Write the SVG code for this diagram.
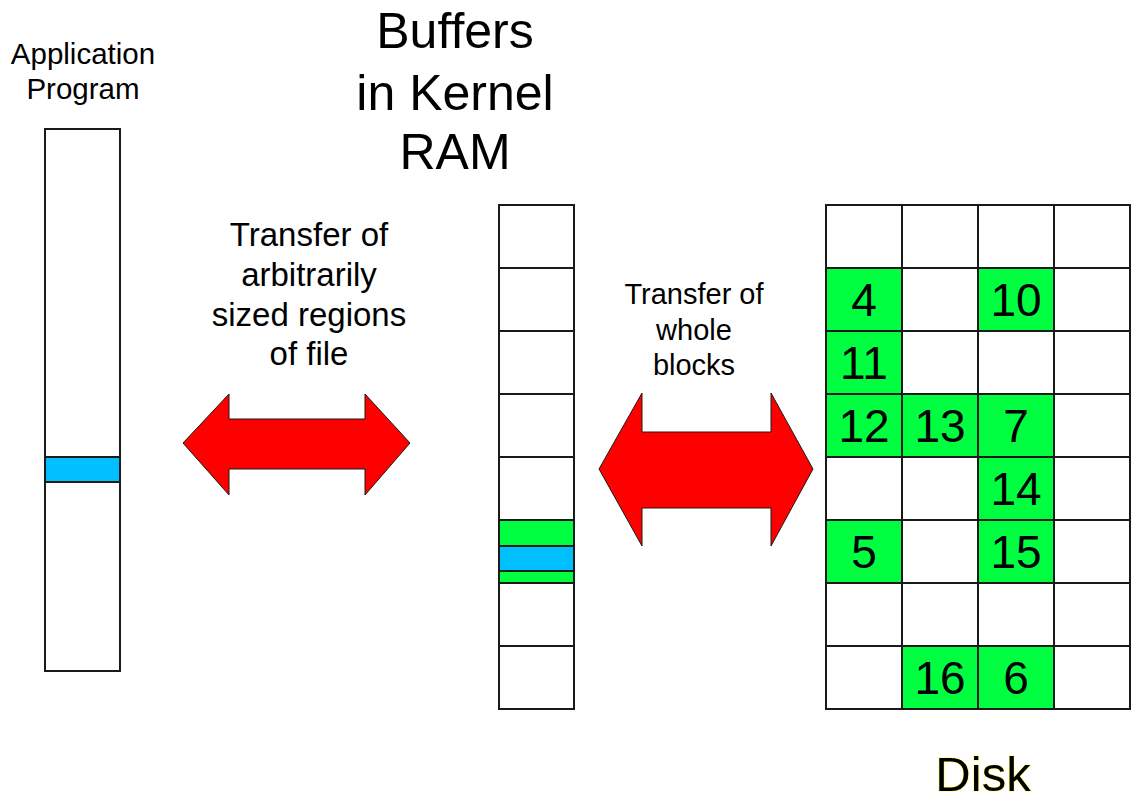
<svg xmlns="http://www.w3.org/2000/svg" width="1141" height="802" viewBox="0 0 1141 802">
<style>
.t{font-family:"Liberation Sans",Arial,sans-serif;fill:#000;text-anchor:middle}
.box{fill:#fff;stroke:#1a1a1a;stroke-width:2}
.g{fill:#00ff40;stroke:#1a1a1a;stroke-width:2}
.b{fill:#00bfff;stroke:#1a1a1a;stroke-width:2}
.arrow{fill:#ff0000;stroke:#1a1a1a;stroke-width:1}
.num{font-family:"Liberation Sans",Arial,sans-serif;font-size:46px;text-anchor:middle;fill:#000}
</style>
<rect width="1141" height="802" fill="#fff"/>
<g id="app">
<text class="t" font-size="29.5" x="83" y="64">Application</text>
<text class="t" font-size="29.5" x="83" y="99">Program</text>
<rect class="box" x="45" y="129" width="75" height="542"/>
<rect class="b" x="45" y="457" width="75" height="25"/>
</g>
<g id="buffers">
<text class="t" font-size="50" x="455" y="48">Buffers</text>
<text class="t" font-size="50" x="455" y="110">in Kernel</text>
<text class="t" font-size="50" x="455" y="169">RAM</text>
<rect class="box" x="499" y="205" width="75" height="63"/>
<rect class="box" x="499" y="268" width="75" height="63"/>
<rect class="box" x="499" y="331" width="75" height="63"/>
<rect class="box" x="499" y="394" width="75" height="63"/>
<rect class="box" x="499" y="457" width="75" height="63"/>
<rect class="g" x="499" y="520" width="75" height="63"/>
<rect class="b" x="499" y="546" width="75" height="25"/>
<rect class="box" x="499" y="583" width="75" height="63"/>
<rect class="box" x="499" y="646" width="75" height="63"/>
</g>
<g id="disk">
<g id="disk-cells">
<rect class="box" x="826" y="205" width="76" height="63"/>
<rect class="box" x="902" y="205" width="76" height="63"/>
<rect class="box" x="978" y="205" width="76" height="63"/>
<rect class="box" x="1054" y="205" width="76" height="63"/>
<rect class="g" x="826" y="268" width="76" height="63"/>
<rect class="box" x="902" y="268" width="76" height="63"/>
<rect class="g" x="978" y="268" width="76" height="63"/>
<rect class="box" x="1054" y="268" width="76" height="63"/>
<rect class="g" x="826" y="331" width="76" height="63"/>
<rect class="box" x="902" y="331" width="76" height="63"/>
<rect class="box" x="978" y="331" width="76" height="63"/>
<rect class="box" x="1054" y="331" width="76" height="63"/>
<rect class="g" x="826" y="394" width="76" height="63"/>
<rect class="g" x="902" y="394" width="76" height="63"/>
<rect class="g" x="978" y="394" width="76" height="63"/>
<rect class="box" x="1054" y="394" width="76" height="63"/>
<rect class="box" x="826" y="457" width="76" height="63"/>
<rect class="box" x="902" y="457" width="76" height="63"/>
<rect class="g" x="978" y="457" width="76" height="63"/>
<rect class="box" x="1054" y="457" width="76" height="63"/>
<rect class="g" x="826" y="520" width="76" height="63"/>
<rect class="box" x="902" y="520" width="76" height="63"/>
<rect class="g" x="978" y="520" width="76" height="63"/>
<rect class="box" x="1054" y="520" width="76" height="63"/>
<rect class="box" x="826" y="583" width="76" height="63"/>
<rect class="box" x="902" y="583" width="76" height="63"/>
<rect class="box" x="978" y="583" width="76" height="63"/>
<rect class="box" x="1054" y="583" width="76" height="63"/>
<rect class="box" x="826" y="646" width="76" height="63"/>
<rect class="g" x="902" y="646" width="76" height="63"/>
<rect class="g" x="978" y="646" width="76" height="63"/>
<rect class="box" x="1054" y="646" width="76" height="63"/>
</g>
<g id="disk-numbers">
<text class="num" x="864" y="316">4</text>
<text class="num" x="1016" y="316">10</text>
<text class="num" x="864" y="379">11</text>
<text class="num" x="864" y="442">12</text>
<text class="num" x="940" y="442">13</text>
<text class="num" x="1016" y="442">7</text>
<text class="num" x="1016" y="505">14</text>
<text class="num" x="864" y="568">5</text>
<text class="num" x="1016" y="568">15</text>
<text class="num" x="940" y="694">16</text>
<text class="num" x="1016" y="694">6</text>
</g>
<text class="t" font-size="49" x="983" y="791" stroke="#ffff00" stroke-opacity="0.6" stroke-width="1.2" paint-order="stroke">Disk</text>
</g>
<g id="connectors">
<polygon class="arrow" points="183,443 229,394 229,419 365,419 365,394 410,443 365,495 365,469 229,469 229,495"/>
<polygon class="arrow" points="599,469 642,393 642,432 771,432 771,393 813,469 771,546 771,508 642,508 642,546"/>
<text class="t" font-size="33" x="309" y="246">Transfer of</text>
<text class="t" font-size="33" x="309" y="286">arbitrarily</text>
<text class="t" font-size="33" x="309" y="326">sized regions</text>
<text class="t" font-size="33" x="309" y="365">of file</text>
<text class="t" font-size="29" x="694" y="304">Transfer of</text>
<text class="t" font-size="29" x="694" y="340">whole</text>
<text class="t" font-size="29" x="694" y="375">blocks</text>
</g>
</svg>
